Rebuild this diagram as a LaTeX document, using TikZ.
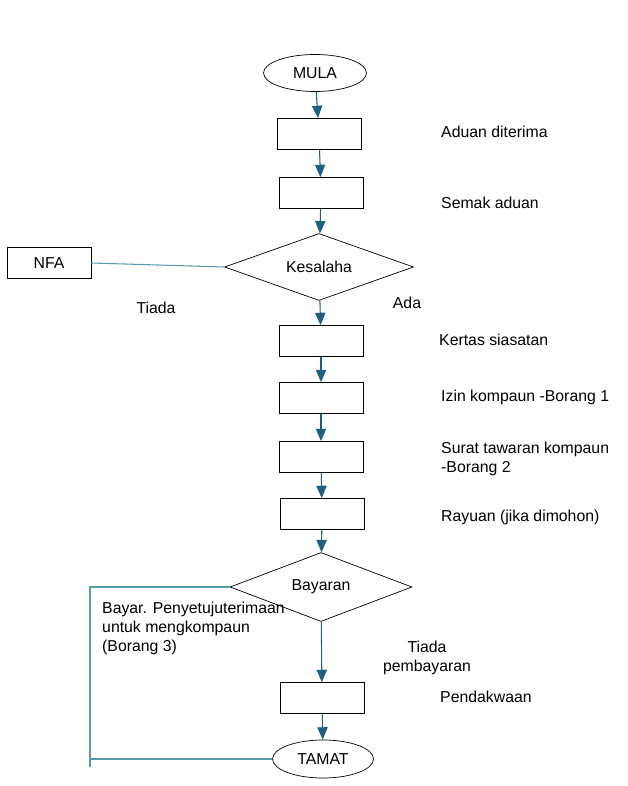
\documentclass[tikz,border=0pt]{standalone}
\usepackage{fontspec}
\setmainfont{Liberation Sans}
\usetikzlibrary{arrows,shapes}

\definecolor{arrowblue}{HTML}{1F5F80}
\definecolor{lineblue}{HTML}{5A98AE}

\begin{document}
\begin{tikzpicture}[x=0.02cm,y=-0.02cm,font=\fontsize{9}{10.8}\selectfont,
  box/.style={draw,minimum width=1.68cm,minimum height=0.62cm,inner sep=0pt},
  term/.style={ellipse,draw,minimum width=2.06cm,minimum height=0.74cm,inner sep=0pt},
  decision/.style={diamond,draw,aspect=2.85,minimum width=3.78cm,minimum height=1.34cm,inner sep=0pt},
  flow/.style={->,>=triangle 45,arrowblue,semithick},
  link/.style={lineblue,semithick}]
\useasboundingbox (0,0) rectangle (627,786);
\node[term] at (315,73) (mula) {MULA};
\node[box] at (319,134) (aduan) {};
\node[box] at (321,193) (semak) {};
\node[decision] at (319,267) (kesalahan) {Kesalaha};
\node[box] at (49,263) (nfa) {NFA};
\node[box] at (321,341) (kertas) {};
\node[box] at (321,398) (izin) {};
\node[box] at (321,457) (surat) {};
\node[box] at (322,514) (rayuan) {};
\node[decision,minimum width=3.64cm,minimum height=1.38cm,aspect=2.64] at (321,587) (bayaran) {Bayaran};
\node[box] at (322,698) (pendakwaan) {};
\node[term,minimum width=2.02cm,minimum height=0.76cm] at (323,759) (tamat) {TAMAT};
\coordinate (loopTop) at (90,587);
\coordinate (loopEnd) at (90,767);
\coordinate (loopCorner) at (90,759);
% labels beside the boxes
\node[anchor=west] at (435,132) (lAduan) {Aduan diterima};
\node[anchor=west] at (435,203) (lSemak) {Semak aduan};
\node[anchor=west] at (433,340) (lKertas) {Kertas siasatan};
\node[anchor=west] at (435,397) (lIzin) {Izin kompaun -Borang 1};
\node[anchor=west,align=left] at (435,459) (lSurat) {Surat tawaran kompaun\\-Borang 2};
\node[anchor=west] at (435,517) (lRayuan) {Rayuan (jika dimohon)};
\node[anchor=west] at (434,697) (lPendakwaan) {Pendakwaan};
\node at (156,308) (tiada) {Tiada};
\node at (407,303) (ada) {Ada};
\node[align=center] at (427,658) (tiadaBayar) {Tiada\\pembayaran};
\node[anchor=west,align=left] at (96,628) (bayar) {Bayar. Penyetujuterimaan\\untuk mengkompaun\\(Borang 3)};
\draw[flow] (mula) -- (aduan);
\draw[flow] (aduan) -- (semak);
\draw[flow] (semak) -- (kesalahan);
\draw[flow] (kesalahan) -- (kertas);
\draw[flow] (kertas) -- (izin);
\draw[flow] (izin) -- (surat);
\draw[flow] (surat) -- (rayuan);
\draw[flow] (rayuan) -- (bayaran);
\draw[flow] (bayaran) -- (pendakwaan);
\draw[flow] (pendakwaan) -- (tamat);
\draw[link] (nfa.east) -- (kesalahan.west);
\draw[link] (bayaran.west) -- (loopTop) -- (loopEnd);
\draw[link] (loopCorner) -- (tamat.west);
\end{tikzpicture}
\end{document}
